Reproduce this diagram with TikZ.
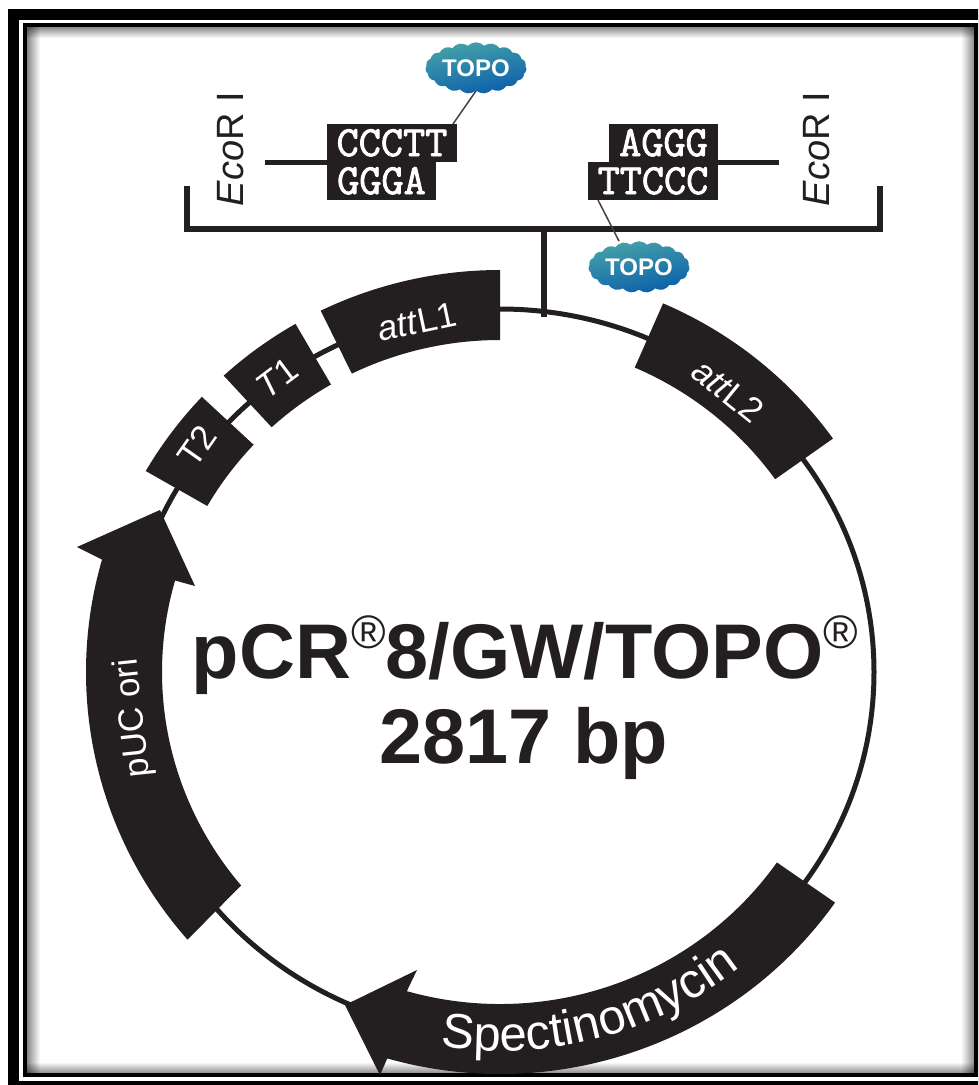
\documentclass[tikz,border=0pt]{standalone}
\usepackage{fontspec}
\setmainfont{Liberation Sans}
\newfontfamily\basefont{Latin Modern Mono}[FakeBold=2]
\usepackage{xcolor}
\usetikzlibrary{arrows.meta, positioning, calc, shapes.symbols, decorations.text, shadings}
\definecolor{mapdark}{HTML}{231F20}
\definecolor{topoteal}{HTML}{45A3A8}
\definecolor{topoblue}{HTML}{0B5EAA}
\definecolor{shadowgray}{HTML}{8C8C8C}
\newcommand{\fsz}[1]{\fontsize{#1}{#1}\selectfont}
\newcommand{\genepath}[2]{(#1:409pt and 402pt) arc[start angle=#1, end angle=#2, x radius=409pt, y radius=402pt]
  -- (#2:338pt and 332pt) arc[start angle=#2, end angle=#1, x radius=338pt, y radius=332pt] -- cycle}
\tikzset{
  basebox/.style={fill=mapdark, text=white, font=\basefont\bfseries\fsz{43}, inner sep=0pt, outer sep=0pt,
                  minimum height=38pt, text height=26pt, text depth=0pt},
  topocloud/.style={cloud, cloud puffs=19, cloud puff arc=90, aspect=2.1, inner sep=0pt,
                    minimum width=101pt, minimum height=49pt, top color=topoteal, bottom color=topoblue,
                    shading angle=12, text=white, font=\bfseries\fsz{24}},
  siteline/.style={line width=5pt, draw=mapdark},
  brktline/.style={line width=6pt, draw=mapdark, miter limit=4},
  topoline/.style={line width=1.5pt, draw=mapdark!85},
  ringline/.style={line width=5pt, draw=mapdark},
  genefill/.style={fill=mapdark},
  sitelbl/.style={text=mapdark, font=\fsz{38}, rotate=90, inner sep=0pt},
  genelbl/.style={text=white, font=\fsz{35}, inner sep=0pt},
  titlelbl/.style={text=mapdark, font=\bfseries\fsz{77.5}, inner sep=0pt, anchor=base},
}

\begin{document}
\begin{tikzpicture}[x=1pt, y=1pt]
  \useasboundingbox (0,0) rectangle (978,-1085);

  \begin{scope}
    \clip (0,0) rectangle (978,-1085);
    \fill[white] (0,0) rectangle (978,-1085);
    \fill[black] (8.3,-9.3) rectangle (1000,-1100);
    \fill[white] (19.3,-20) rectangle (1000,-1081);
    \fill[black] (23.3,-23.3) rectangle (978,-1077.3);
    \fill[white] (27.3,-27.3) rectangle (974,-1073);
    \begin{scope}[blend mode=multiply]
      \shade[left color=shadowgray, right color=white] (27.3,-27.3) rectangle (40,-1073);
      \shade[left color=white, right color=shadowgray] (961,-27.3) rectangle (974,-1073);
      \shade[top color=shadowgray, bottom color=white] (27.3,-27.3) rectangle (974,-38);
      \shade[top color=white, bottom color=shadowgray] (27.3,-1062) rectangle (974,-1073);
    \end{scope}
  \end{scope}

  \begin{scope}[shift={(500,-672)}]
    \draw[ringline] (0,0) ellipse [x radius=374pt, y radius=363pt];
    \fill[genefill] \genepath{90}{116};
    \fill[genefill] \genepath{120}{132.5};
    \fill[genefill] \genepath{136.8}{150};
    \fill[genefill] \genepath{35.5}{66.5};
    \fill[genefill] (221:414pt and 408pt) arc[start angle=221, end angle=164, x radius=414pt, y radius=408pt]
      -- (-423,125) -- (-340,162) -- (-305,86)
      -- (164:338pt and 332pt) arc[start angle=164, end angle=220, x radius=338pt, y radius=332pt] -- cycle;
    \fill[genefill] (325:409pt and 402pt) arc[start angle=325, end angle=254, x radius=409pt, y radius=402pt]
      -- (-120,-403) -- (-155,-333) -- (-83,-298)
      -- (254:338pt and 332pt) arc[start angle=254, end angle=325, x radius=338pt, y radius=332pt] -- cycle;
    \path[decorate, decoration={text along path, text align=center, text color=white,
        text={|\fsz{49}|Spectinomycin}}]
      (248:384pt and 379pt) arc[start angle=248, end angle=322, x radius=384pt, y radius=379pt];
  \end{scope}

  \node[genelbl, rotate=12] (attlone) at (417,-322) {\textit{att}L1};
  \node[genelbl, rotate=-39] (attltwo) at (728,-391) {\textit{att}L2};
  \node[genelbl, rotate=37] (tone) at (277,-378) {\textit{T}1};
  \node[genelbl, rotate=55] (ttwo) at (197,-446) {T2};
  \node[genelbl, rotate=96] (puclbl) at (134,-718) {pUC ori};

  \node[basebox, minimum width=130pt, anchor=south west] (cccttbox) at (327,-162) {CCCTT};
  \node[basebox, minimum width=109pt, below=0pt of cccttbox.south west, anchor=north west] (gggabox) {GGGA};
  \node[basebox, minimum width=109pt, anchor=south east] (agggbox) at (718,-162) {AGGG};
  \node[basebox, minimum width=130pt, below=0pt of agggbox.south east, anchor=north east] (ttcccbox) {TTCCC};

  \node[topocloud] (topoa) at (476,-68) {TOPO};
  \node[topocloud] (topob) at (639,-267) {TOPO};
  \node[sitelbl] (ecol) at (231,-149) {\textit{Eco}R I};
  \node[sitelbl] (ecor) at (817,-149) {\textit{Eco}R I};

  \coordinate (endl) at (265,-162);
  \coordinate (endr) at (779,-162);
  \coordinate (brktl) at (186.5,-186);
  \coordinate (brktr) at (880,-186);
  \coordinate (brktmid) at (543.5,-228.5);
  \coordinate (ringtop) at (543.5,-317);

  \draw[siteline] (endl) -- (cccttbox.south west);
  \draw[siteline] (agggbox.south east) -- (endr);
  \draw[brktline] (brktl) -- (brktl |- brktmid) -- (brktr |- brktmid) -- (brktr);
  \draw[brktline] (brktmid) -- (ringtop);
  \draw[topoline] (topoa.south) -- ([xshift=-4pt]cccttbox.north east);
  \draw[topoline] ([xshift=10pt]ttcccbox.south west) -- ([xshift=-20pt]topob.north);

  \node[titlelbl] (vectorlbl) at (525,-678) {pCR\raisebox{30pt}{\mdseries\fsz{47}®}8/GW/TOPO\raisebox{30pt}{\mdseries\fsz{47}®}};
  \node[titlelbl] (sizelbl) at (524,-763) {2817 bp};
\end{tikzpicture}
\end{document}
